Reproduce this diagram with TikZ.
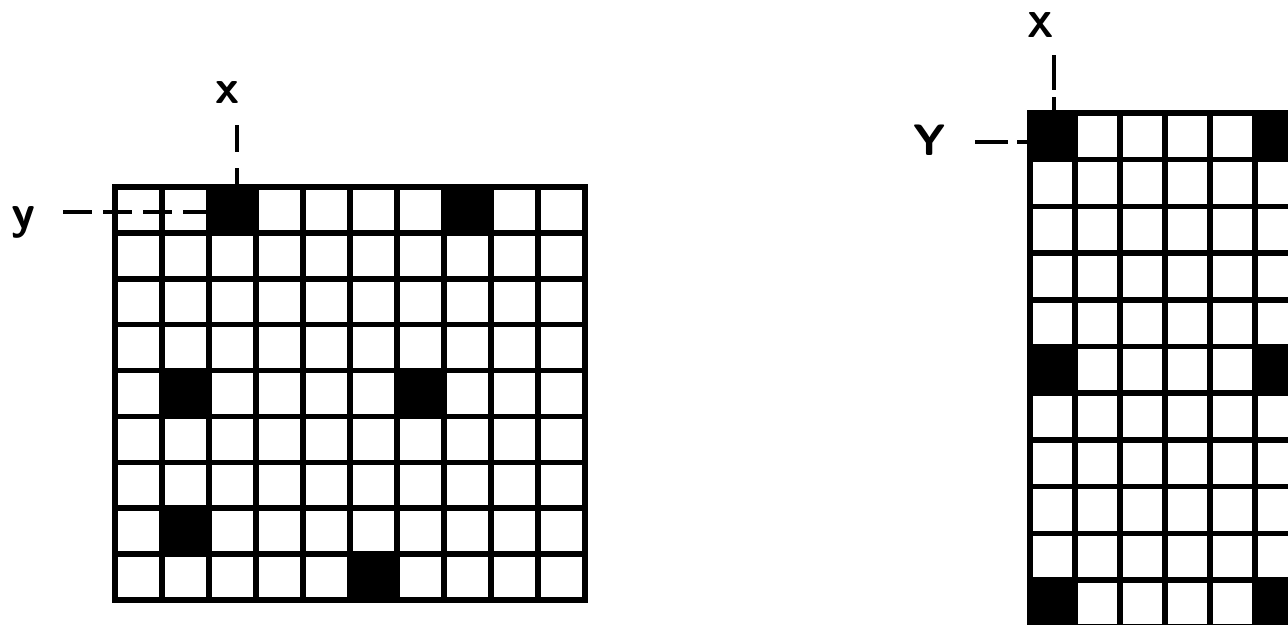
\documentclass[tikz,border=0pt]{standalone}
\begin{document}
\begin{tikzpicture}[x=1pt, y=-1pt, line join=round,
    gridline/.style={line width=5.5pt, line cap=rect},
    tickline/.style={line width=4.5pt},
    biglbl/.style={font=\sffamily\bfseries\fontsize{48}{54}\selectfont},
    caplbl/.style={font=\sffamily\bfseries\fontsize{36}{42}\selectfont}]
		\useasboundingbox (0,0) rectangle (1288,624);
		\clip (0,0) rectangle (1288,624);
		% left grid, 10 x 9 cells
		\foreach \c/\r in {2/0,7/0,1/4,6/4,1/7,5/8}
			\fill (115+\c*47,187+\r*45.89) rectangle ++(47,45.89);
		\foreach \i in {0,...,10}
			\draw[gridline] (115+\i*47,187) -- (115+\i*47,600);
		\foreach \j in {0,...,9}
			\draw[gridline] (115,187+\j*45.89) -- (585,187+\j*45.89);
		\node[biglbl] (lx) at (227,93) {x};
		\node[biglbl] (ly) at (23,222) {y};
		\coordinate (lxa) at (237,125);
		\coordinate (lxb) at (237,187);
		\coordinate (lya) at (63,212);
		\coordinate (lyb) at (207,212);
		\draw[tickline, dash pattern=on 27pt off 16pt] (lxa) -- (lxb);
		\draw[tickline, dash pattern=on 29pt off 11pt] (lya) -- (lyb);
		% right grid, cut off by the border
		\foreach \c/\r in {0/0,5/0,0/5,5/5,0/10,5/10}
			\fill (1030+\c*45,113+\r*46.7) rectangle ++(45,46.7);
		\foreach \i in {0,...,6}
			\draw[gridline] (1030+\i*45,113) -- (1030+\i*45,640);
		\foreach \j in {0,...,11}
			\draw[gridline] (1030,113+\j*46.7) -- (1300,113+\j*46.7);
		\node[caplbl] (rx) at (1041,25) {X};
		\node[caplbl, font=\sffamily\bfseries\fontsize{44}{50}\selectfont] (ry) at (930,140) {Y};
		\coordinate (rxa) at (1054,55);
		\coordinate (rxb) at (1054,113);
		\coordinate (rya) at (975,142);
		\coordinate (ryb) at (1030,142);
		\draw[tickline, dash pattern=on 35pt off 7pt] (rxa) -- (rxb);
		\draw[tickline, dash pattern=on 33pt off 9pt] (rya) -- (ryb);
\end{tikzpicture}
\end{document}
